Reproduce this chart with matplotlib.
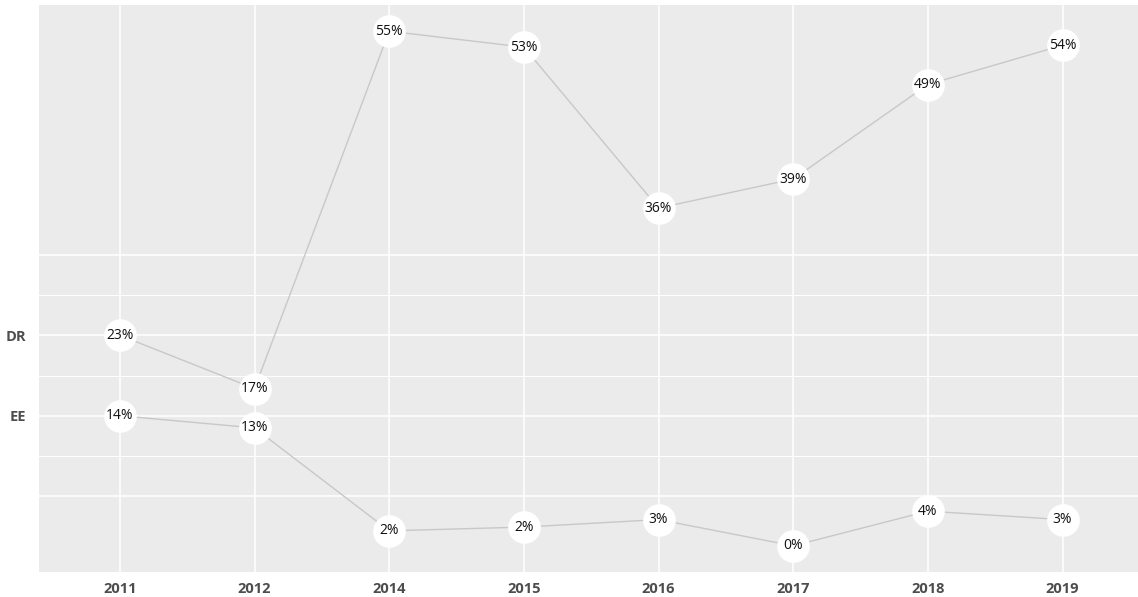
import matplotlib
matplotlib.use("Agg")
import matplotlib.pyplot as plt

years = ["2011", "2012", "2014", "2015", "2016", "2017", "2018", "2019"]
dr_values = [22.6, 16.9, 55.1, 53.4, 36.2, 39.3, 49.4, 53.6]
ee_values = [14.0, 12.7, 1.7, 2.1, 2.9, 0.1, 3.8, 2.9]
series_names = ["DR", "EE"]

PANEL = "#EBEBEB"
LINE = "#C8C8C8"
AXIS_TEXT = "#4D4D4D"

plt.rcParams["font.family"] = ["Open Sans", "DejaVu Sans"]

fig = plt.figure(figsize=(11.38, 5.97), dpi=100)
ax = fig.add_axes([0.0343, 0.0419, 0.9657, 0.9497])
ax.set_facecolor(PANEL)
for s in ax.spines.values():
    s.set_visible(False)

x = list(range(len(years)))

# horizontal grid anchored on the first values of each series
step = dr_values[0] - ee_values[0]
for k in range(-1, 3):
    ax.axhline(ee_values[0] + k * step, color="white", lw=1.1, zorder=0)
for k in range(-1, 2):
    ax.axhline(ee_values[0] + (k + 0.5) * step, color="white", lw=0.7, zorder=0)
for xi in x:
    ax.axvline(xi, color="white", lw=1.1, zorder=0)

for vals in (dr_values, ee_values):
    ax.plot(x, vals, color=LINE, lw=1.0, zorder=1)
    ax.plot(x, vals, ls="none", marker="o", ms=22.5, mfc="white", mec="white", zorder=2)
    for xi, v in zip(x, vals):
        ax.text(xi, v, f"{round(v):.0f}%", ha="center", va="center",
                fontsize=10, color="#111111", zorder=3)

ax.set_xlim(-0.6, len(years) - 1 + 0.56)
ax.set_ylim(-2.7, 57.9)
ax.set_xticks(x)
ax.set_xticklabels(years, fontsize=10.5, fontweight="bold", color=AXIS_TEXT)
ax.set_yticks([dr_values[0], ee_values[0]])
ax.set_yticklabels(series_names, fontsize=10.5, fontweight="bold", color=AXIS_TEXT)
ax.tick_params(length=0, pad=7)
ax.tick_params(axis="y", pad=9)

fig.savefig("out.png", dpi=100, facecolor="white")
